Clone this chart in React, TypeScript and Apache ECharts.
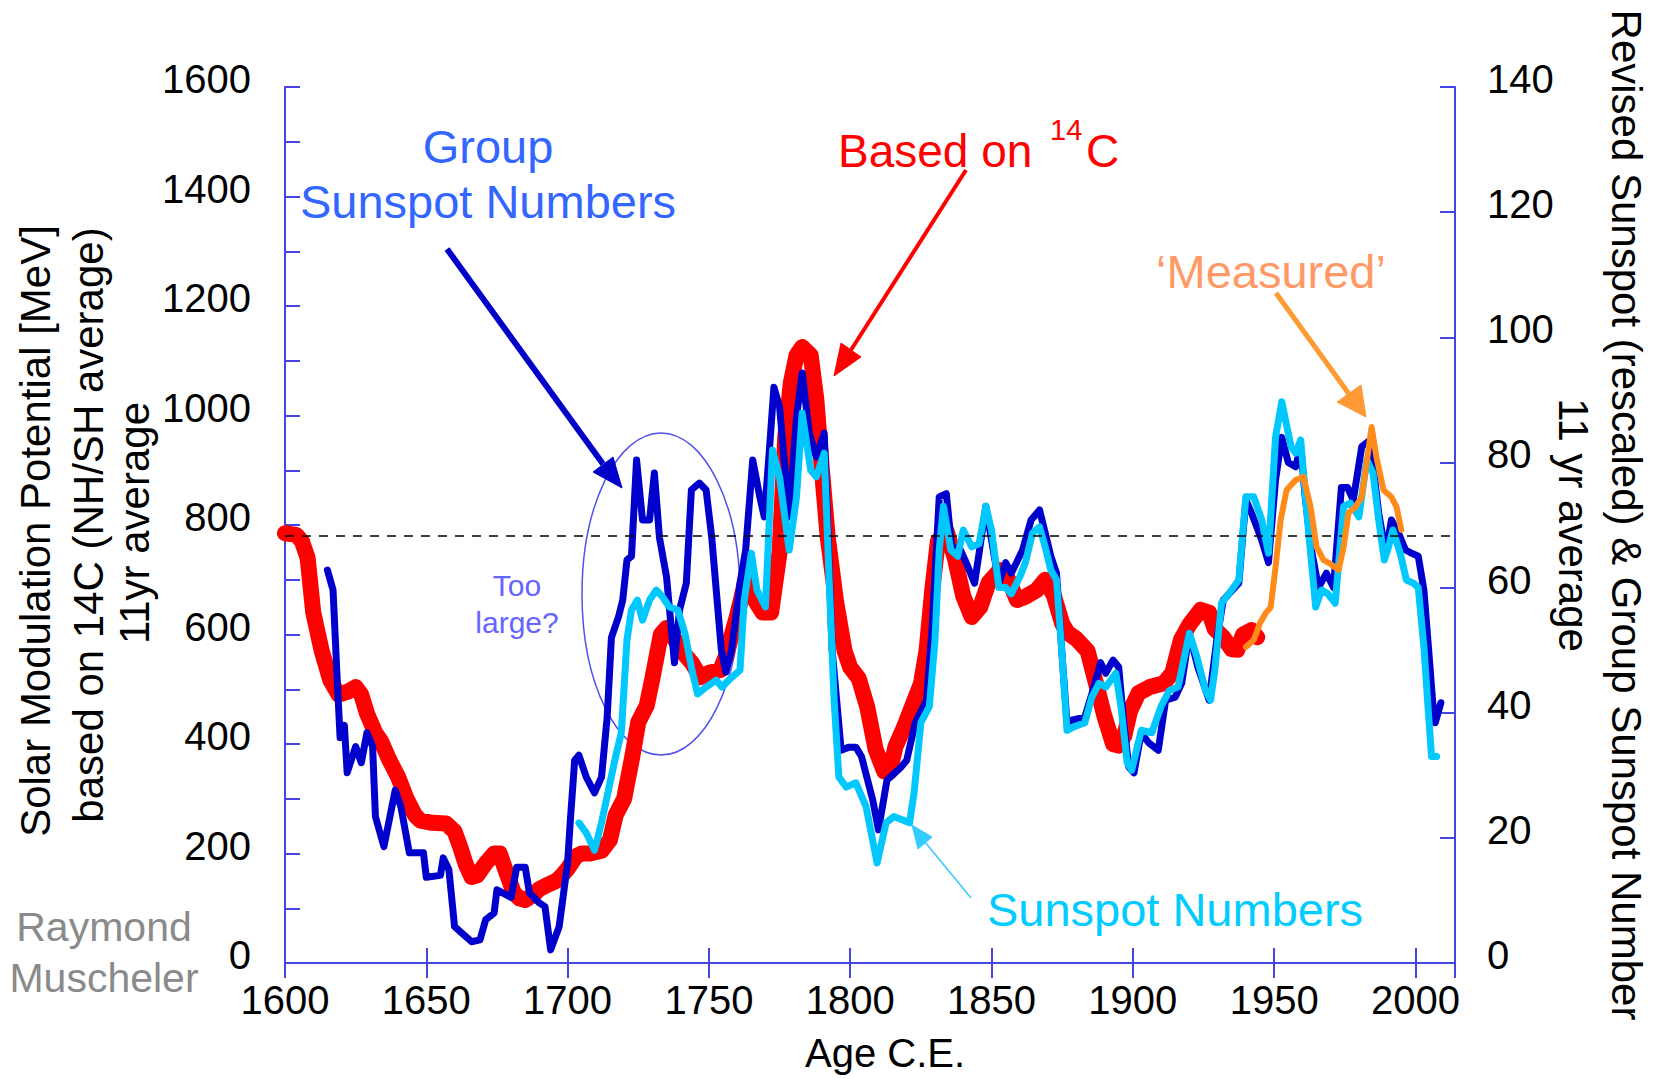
import React, { useEffect, useRef } from "react";
import * as echarts from "echarts";

const FONT = "'Liberation Sans', Arial, Helvetica, sans-serif";

// x-axis tick years and axis ranges
const xTickYears = [1600, 1650, 1700, 1750, 1800, 1850, 1900, 1950, 2000];
const leftTickLabels = [0, 200, 400, 600, 800, 1000, 1200, 1400, 1600];
const rightTickLabels = [0, 20, 40, 60, 80, 100, 120, 140];
const referenceLevel = 780; // dashed line, MeV

// Solar modulation potential based on 14C (MeV, left axis)
const red14C: [number, number][] = [
  [1600, 785], [1604, 782], [1606, 770], [1608, 740], [1610, 640], [1613, 570], [1616, 517],
  [1619, 490], [1622, 495], [1625, 504], [1627, 490], [1629, 456], [1632, 420], [1634, 405],
  [1637, 370], [1640, 340], [1643, 300], [1646, 270], [1648, 260], [1652, 256], [1657, 255],
  [1660, 240], [1662, 212], [1664, 180], [1666, 157], [1668, 160], [1671, 182], [1674, 200],
  [1676, 200], [1678, 170], [1681, 128], [1683, 118], [1685, 115], [1688, 125], [1690, 135],
  [1693, 143], [1696, 150], [1698, 160], [1700, 172], [1703, 195], [1705, 200], [1708, 200],
  [1712, 205], [1715, 225], [1717, 270], [1720, 300], [1723, 380], [1725, 440], [1728, 470],
  [1730, 520], [1733, 600], [1735, 612], [1738, 590], [1741, 566], [1744, 548], [1747, 522],
  [1750, 530], [1754, 535], [1756, 560], [1760, 635], [1763, 700], [1766, 665], [1769, 640],
  [1772, 640], [1775, 750], [1777, 960], [1779, 1060], [1781, 1110], [1783, 1125], [1786, 1110],
  [1788, 1030], [1790, 900], [1792, 780], [1795, 660], [1798, 570], [1800, 540], [1803, 520],
  [1806, 468], [1809, 390], [1812, 350], [1814, 350], [1816, 395], [1819, 430], [1822, 470],
  [1825, 510], [1827, 570], [1829, 680], [1831, 770], [1834, 790], [1837, 740], [1840, 670],
  [1843, 632], [1846, 650], [1849, 695], [1853, 718], [1856, 700], [1859, 663], [1862, 669],
  [1866, 681], [1869, 700], [1872, 672], [1875, 620], [1877, 603], [1880, 592], [1884, 570],
  [1887, 510], [1890, 450], [1893, 400], [1895, 397], [1897, 415], [1899, 460], [1902, 493],
  [1906, 504], [1911, 511], [1914, 530], [1917, 590], [1920, 618], [1924, 645], [1927, 640],
  [1929, 610], [1932, 595], [1935, 573], [1937, 572], [1939, 600], [1942, 608], [1944, 595],
];

// Group sunspot numbers (right axis)
const groupSunspots: [number, number][] = [
  [1615, 62.8], [1617, 59.6], [1618.5, 45], [1619.5, 36], [1621, 38], [1622, 30.4], [1625, 34.6],
  [1627, 32], [1629, 36.8], [1631, 34.6], [1632, 23.4], [1635, 18.6], [1639, 27.6], [1641, 25],
  [1644, 17.6], [1649, 17.6], [1650, 13.7], [1655, 14], [1656, 16.8], [1658, 14.9], [1660, 5.8],
  [1664, 4.2], [1666, 3.4], [1669, 3.7], [1671, 6.9], [1674, 8], [1675, 11.7], [1680, 10.5],
  [1682, 15.3], [1685, 15.3], [1686.5, 11.2], [1690, 9.6], [1692, 9], [1694, 2.1], [1697, 5.8],
  [1700, 16], [1701, 23], [1702.5, 32.4], [1704, 33.2], [1706.6, 29.7], [1709.5, 27.2],
  [1712, 29.7], [1714, 39.3], [1715.5, 52], [1718, 55.3], [1719.5, 58], [1721, 64.4],
  [1722.6, 65], [1724.4, 80.4], [1726.5, 70.8], [1729, 70.8], [1730.7, 78.3], [1732.5, 68],
  [1735, 61.7], [1737.8, 48], [1739.6, 56.4], [1742, 60.7], [1743.8, 75.6], [1746.6, 76.7],
  [1749, 75.6], [1751, 68], [1754.4, 50], [1756, 46.5], [1758, 50], [1761, 60.7], [1763, 66],
  [1765.5, 80.4], [1768, 74.5], [1769.6, 71.3], [1771.4, 82], [1773, 92], [1775, 88.9],
  [1778.4, 71.3], [1781, 87.3], [1783, 94.3], [1785.5, 84.7], [1788, 80.9], [1790.8, 84.7],
  [1793.6, 50], [1796.8, 34], [1799.6, 34.5], [1802, 34.5], [1804, 33], [1808, 26], [1810, 21.3],
  [1813, 29.2], [1818, 31.3], [1820, 32.4], [1823, 38.4], [1827, 42], [1829, 53.7],
  [1831.5, 74.5], [1834, 75], [1836, 66], [1838.5, 66.5], [1841, 64], [1844, 60.7],
  [1845.6, 65.5], [1848, 73], [1850, 67.6], [1852.6, 60.7], [1855, 64], [1857, 62.3], [1861, 66],
  [1864, 70.8], [1867, 72.4], [1869, 68.7], [1871, 65], [1873, 62.3], [1875, 49], [1876.7, 38.4],
  [1878.4, 38.8], [1883, 39.3], [1885.5, 43], [1888.6, 48], [1890.4, 46.3], [1893, 48.4],
  [1895, 47.3], [1896.8, 38.4], [1898.6, 31.3], [1900.4, 30.4], [1903, 36.8], [1905.6, 35.2],
  [1909, 34], [1911.6, 42], [1915, 42.5], [1917.3, 44.7], [1920, 52.7], [1923, 47.3], [1927, 42],
  [1929.7, 51.6], [1932, 58], [1937.5, 60.7], [1940, 74], [1942, 71.9], [1945.6, 67.6],
  [1948, 64], [1950.5, 77.2], [1952.7, 84], [1955, 80], [1957.6, 79.3], [1959.4, 82.5],
  [1961, 74.5], [1963, 66.5], [1965.7, 60], [1968.5, 62.3], [1971, 60], [1973.8, 76], [1976, 76],
  [1978, 74], [1981, 82.5], [1984, 83.6], [1987, 71.9], [1989.5, 65.5], [1991.5, 70.8],
  [1994, 68.7], [1996.5, 66], [1998.6, 65.5], [2001, 65], [2003, 59.6], [2004.6, 50.5],
  [2006.4, 40], [2007, 38.4], [2009, 41.6],
];

// Revised sunspot numbers (right axis)
const sunspotNumbers: [number, number][] = [
  [1704, 22.4], [1706.6, 20.8], [1709.5, 18], [1712, 22.4], [1715, 28.8], [1717, 33], [1719, 36.8],
  [1721, 51.6], [1722.6, 56.4], [1724.7, 58], [1726.5, 54.8], [1729, 58], [1731.4, 59.6],
  [1733.6, 58.5], [1736, 56.9], [1739, 56.4], [1741.5, 52.7], [1744, 46.8], [1746, 43],
  [1749, 44.1], [1752.6, 45.2], [1754.6, 44.1], [1757, 45.2], [1761, 46.8], [1762.5, 58],
  [1765, 65.5], [1767, 59.6], [1770, 56.9], [1772.5, 82], [1775, 77.7], [1778.4, 66],
  [1781, 74.5], [1783, 87.9], [1786, 78.8], [1788, 77.7], [1790.8, 81.5], [1792.6, 60.7],
  [1794.3, 42], [1796, 29.7], [1798.6, 28.1], [1802, 28.8], [1805.6, 25], [1809.5, 16],
  [1812.7, 22.4], [1815.5, 23.4], [1821, 22.4], [1822.6, 27.2], [1825, 38.4], [1828, 41],
  [1830, 51.6], [1831.5, 66], [1833, 73], [1835.6, 66], [1838, 65], [1840, 69.2], [1843, 66.5],
  [1845.6, 67], [1848, 73], [1850, 69.2], [1852.6, 60], [1855, 60], [1857, 59], [1860, 61.7],
  [1862, 64], [1864.5, 68.7], [1867, 69.7], [1869, 66.5], [1871, 62.8], [1873, 61.2], [1875, 49],
  [1876.7, 37.2], [1879, 37.7], [1883, 38.4], [1885.5, 42.5], [1888, 44.7], [1890.4, 44.1],
  [1894, 46.3], [1895.8, 41], [1898, 32], [1899.6, 30.8], [1903, 37.2], [1906.7, 36.8],
  [1910, 41], [1913, 43.6], [1916, 44.1], [1920, 52.7], [1922.6, 49], [1925.7, 43.6],
  [1927.5, 42], [1929, 46.8], [1931.4, 57.5], [1934, 59], [1937.5, 61.2], [1940, 74.5],
  [1942.8, 74.5], [1945.6, 70.8], [1948, 65.5], [1950.5, 84], [1952.7, 89.7], [1956, 82.5],
  [1957.6, 81.5], [1959.4, 83.6], [1961.6, 71.9], [1964.7, 56.9], [1966.8, 59.6], [1969, 59],
  [1971.6, 57.5], [1974.6, 73], [1977, 73.5], [1980, 71.3], [1982.8, 80.4], [1985, 78.3],
  [1987, 70.8], [1989, 64.4], [1990.5, 66.5], [1992, 69.2], [1994.6, 65.5], [1996.8, 61.2],
  [1999.3, 60.7], [2001, 60], [2003, 50.5], [2004.6, 40], [2005.7, 33], [2007.5, 33],
];

// 'Measured' modulation potential (MeV, left axis)
const measured: [number, number][] = [
  [1940, 577], [1942.8, 590], [1945, 621], [1947, 639], [1948.8, 650], [1950.5, 723],
  [1952.3, 809], [1954.4, 864], [1957.6, 882], [1960.4, 888], [1962.9, 833], [1965, 760],
  [1967.5, 736], [1969.3, 731], [1972.8, 718], [1974.6, 760], [1976.3, 822], [1978.8, 833],
  [1981, 851], [1982.7, 913], [1984.5, 979], [1986.2, 924], [1988.7, 864], [1991.5, 851],
  [1993.3, 833], [1995, 791],
];

const AXIS_BLUE = "#4545e6";

function txt(
  text: string,
  x: number,
  y: number,
  fill: string,
  fontSize: number,
  extra: Record<string, unknown> = {},
  align = "center"
) {
  return {
    type: "text",
    x,
    y,
    z: 10,
    ...extra,
    style: {
      text,
      x: 0,
      y: 0,
      fill,
      fontSize,
      fontFamily: FONT,
      textAlign: align,
      textVerticalAlign: "middle",
      align,
      verticalAlign: "middle",
    },
  };
}

function arrow(
  from: [number, number],
  base: [number, number],
  head: [number, number][],
  color: string,
  width: number
) {
  return [
    {
      type: "line",
      z: 9,
      shape: { x1: from[0], y1: from[1], x2: base[0], y2: base[1] },
      style: { stroke: color, lineWidth: width, lineCap: "butt" },
    },
    {
      type: "polygon",
      z: 9,
      shape: { points: head },
      style: { fill: color, stroke: color, lineWidth: 1 },
    },
  ];
}

export default function App() {
  const ref = useRef<HTMLDivElement>(null);

  useEffect(() => {
    document.body.style.margin = "0";
    if (!ref.current) return;
    const chart = echarts.init(ref.current, undefined, { renderer: "svg" });

    const xLabelFmt = (v: number) => (xTickYears.includes(v) ? String(v) : "");
    const leftFmt = (v: number) => (leftTickLabels.includes(v) ? String(v) : "");
    const rightFmt = (v: number) => (rightTickLabels.includes(v) ? String(v) : "");

    const axisLine = { show: true, lineStyle: { color: AXIS_BLUE, width: 2 } };
    const axisTick = { show: true, inside: true, length: 15, lineStyle: { color: AXIS_BLUE, width: 2 } };
    const labelBase = { color: "#000", fontSize: 40, fontFamily: FONT };
    // y labels sit a few pixels above their ticks, as in the reference
    const yLabelShift = { verticalAlign: "bottom", lineHeight: 16 };

    const graphics: any[] = [
      // axis titles
      txt("Solar Modulation Potential [MeV]", 35, 531, "#000", 42, { rotation: Math.PI / 2 }),
      txt("based on 14C (NH/SH average)", 88, 525, "#000", 42, { rotation: Math.PI / 2 }),
      txt("11yr average", 134, 523, "#000", 42, { rotation: Math.PI / 2 }),
      txt("Revised Sunspot (rescaled) & Group Sunspot Number", 1626, 515, "#000", 42, {
        rotation: -Math.PI / 2,
      }),
      txt("11 yr average", 1573, 525, "#000", 42, { rotation: -Math.PI / 2 }),
      txt("Age C.E.", 885, 1053, "#000", 40),
      // annotations
      txt("Group", 488, 146, "#3366ff", 47),
      txt("Sunspot Numbers", 488, 201, "#3366ff", 47),
      txt("Based on", 838, 151, "#ff0000", 46, {}, "left"),
      txt("14", 1050, 130, "#ff0000", 29, {}, "left"),
      txt("C", 1086, 151, "#ff0000", 46, {}, "left"),
      txt("\u2018Measured\u2019", 1271, 271, "#ff9966", 47),
      txt("Too", 517, 585, "#6464ff", 30),
      txt("large?", 517, 622, "#6464ff", 30),
      txt("Sunspot Numbers", 1175, 909, "#00ccff", 47),
      txt("Raymond", 104, 927, "#8a8a8a", 41),
      txt("Muscheler", 104, 978, "#8a8a8a", 41),
      {
        type: "ellipse",
        z: 1,
        shape: { cx: 661, cy: 594, rx: 79, ry: 161 },
        style: { fill: "none", stroke: "#5050ee", lineWidth: 1.5 },
      },
      ...arrow([447, 249], [603, 464], [[593, 472], [613, 457], [622, 488]], "#0000c8", 6),
      ...arrow([966, 170], [851, 350], [[841, 343], [861, 357], [834, 376]], "#ff0000", 4),
      ...arrow([1276, 293], [1349, 394], [[1337, 402], [1361, 385], [1366, 417]], "#ff9933", 5),
      ...arrow([971, 898], [920, 836], [[912, 825], [918, 849], [932, 837]], "#33ccff", 1.5),
    ];

    chart.setOption({
      animation: false,
      backgroundColor: "#fff",
      grid: { left: 285, top: 87, width: 1170, height: 876, containLabel: false },
      xAxis: [
        {
          type: "value",
          position: "bottom",
          min: 1600,
          max: 2014,
          interval: 50,
          axisLine,
          axisTick,
          splitLine: { show: false },
          axisLabel: { ...labelBase, margin: 17, formatter: xLabelFmt, showMaxLabel: false },
        },
        {
          type: "value",
          position: "top",
          min: 1600,
          max: 2014,
          interval: 50,
          axisLine,
          axisTick,
          splitLine: { show: false },
          axisLabel: { show: false },
        },
      ],
      yAxis: [
        {
          type: "value",
          position: "left",
          min: 0,
          max: 1600,
          interval: 100,
          axisLine,
          axisTick,
          splitLine: { show: false },
          axisLabel: { ...labelBase, ...yLabelShift, margin: 34, formatter: leftFmt },
        },
        {
          type: "value",
          position: "right",
          min: 0,
          max: 140,
          interval: 20,
          axisLine,
          axisTick,
          splitLine: { show: false },
          axisLabel: { ...labelBase, ...yLabelShift, margin: 32, formatter: rightFmt },
        },
      ],
      series: [
        {
          type: "line",
          name: "Based on 14C",
          xAxisIndex: 0,
          yAxisIndex: 0,
          data: red14C,
          symbol: "none",
          z: 2,
          lineStyle: { color: "#ff0000", width: 16, cap: "round", join: "round" },
          markLine: {
            silent: true,
            symbol: ["none", "none"],
            label: { show: false },
            lineStyle: { color: "#000", width: 1.5, type: [9, 8] },
            data: [{ yAxis: referenceLevel }],
          },
        },
        {
          type: "line",
          name: "Group Sunspot Numbers",
          xAxisIndex: 0,
          yAxisIndex: 1,
          data: groupSunspots,
          symbol: "none",
          z: 3,
          lineStyle: { color: "#0000cc", width: 7, cap: "round", join: "round" },
        },
        {
          type: "line",
          name: "Sunspot Numbers",
          xAxisIndex: 0,
          yAxisIndex: 1,
          data: sunspotNumbers,
          symbol: "none",
          z: 4,
          lineStyle: { color: "#00c8ff", width: 7, cap: "round", join: "round" },
        },
        {
          type: "line",
          name: "Measured",
          xAxisIndex: 0,
          yAxisIndex: 0,
          data: measured,
          symbol: "none",
          z: 5,
          lineStyle: { color: "#ff8c1a", width: 6, cap: "round", join: "round" },
        },
      ],
      graphic: graphics,
    });

    return () => chart.dispose();
  }, []);

  return <div ref={ref} style={{ width: 1656, height: 1079, background: "#fff" }} />;
}
